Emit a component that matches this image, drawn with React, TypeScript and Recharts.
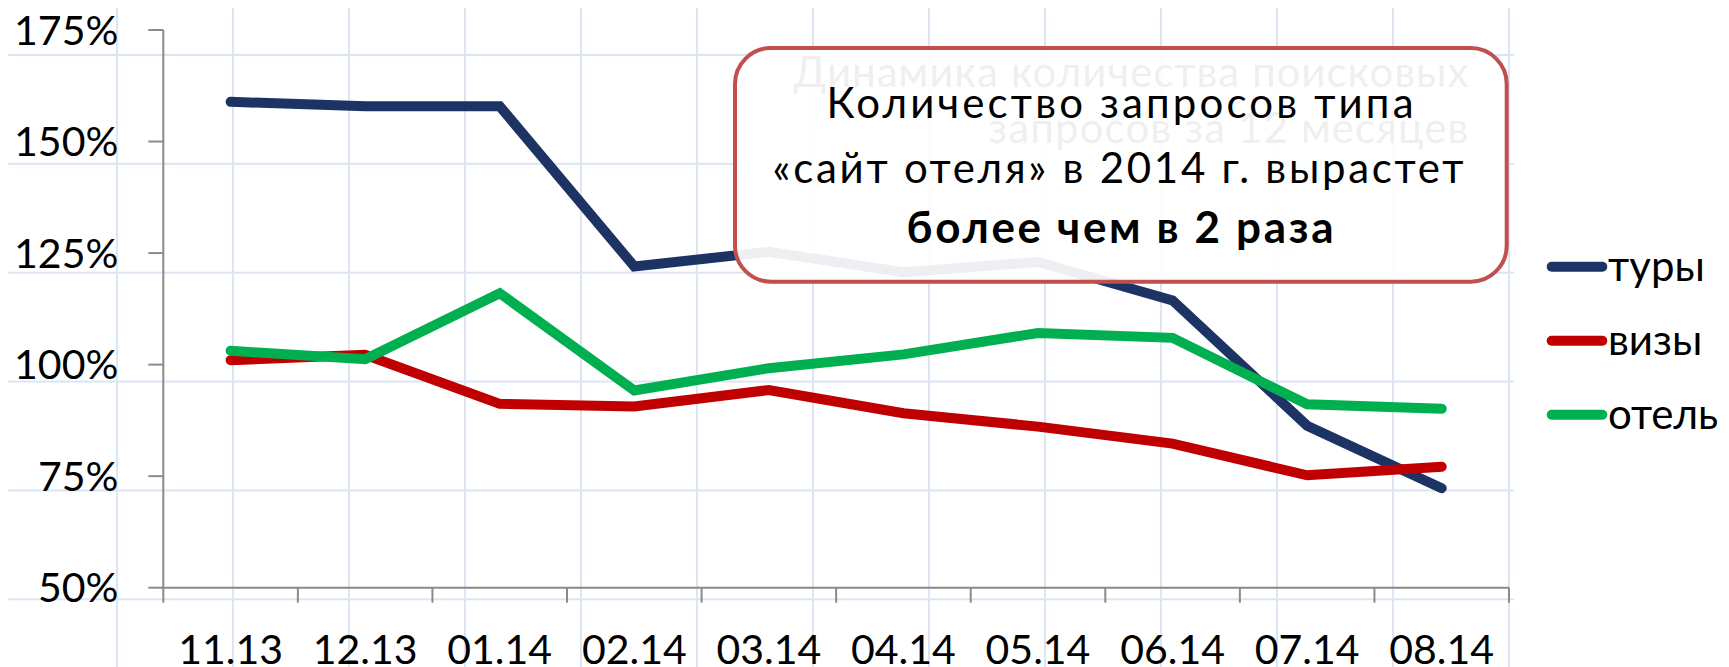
import React from 'react';
import { LineChart, Line, XAxis, YAxis, Legend } from 'recharts';

const categories = ['11.13', '12.13', '01.14', '02.14', '03.14', '04.14', '05.14', '06.14', '07.14', '08.14'];
const seriesNames = ['туры', 'визы', 'отель'];
const tury = [158.9, 157.9, 157.9, 122.0, 125.3, 120.7, 123.0, 114.4, 86.3, 72.3];
const vizy = [101.0, 102.2, 91.2, 90.6, 94.3, 89.1, 86.1, 82.3, 75.2, 77.1];
const otel = [103.1, 101.2, 116.0, 94.2, 99.2, 102.3, 107.1, 106.0, 91.1, 90.1];
const yTicks = [50, 75, 100, 125, 150, 175];
const titleLines = ['Динамика количества поисковых', 'запросов за 12 месяцев'];
const calloutLines = ['Количество запросов типа', '«сайт отеля» в 2014 г. вырастет', 'более чем в 2 раза'];

const rows = categories.map((c, i) => ({ month: c, tury: tury[i], vizy: vizy[i], otel: otel[i] }));

const FONT = 'Lato, "Noto Sans", sans-serif';
const AXIS = '#8a8a8a';
const COLORS = ['#1C3363', '#C00000', '#00B050'];
const TICK = 15;
const X_MARGIN = 32;

const XTick = (props: any) => {
  const { x, y, payload, index, visibleTicksCount } = props;
  const half = payload && typeof payload.offset === 'number' && payload.offset > 0 ? payload.offset : 67.3;
  const axisY = y - TICK - X_MARGIN;
  const last = index === (visibleTicksCount ?? categories.length) - 1;
  return (
    <g>
      <line x1={x - half} x2={x - half} y1={axisY} y2={axisY + TICK} stroke={AXIS} strokeWidth={2} />
      {last && <line x1={x + half} x2={x + half} y1={axisY} y2={axisY + TICK} stroke={AXIS} strokeWidth={2} />}
      <text x={x} y={y} dy="0.71em" textAnchor="middle" fontSize={41} fontFamily={FONT} fill="#000">
        {payload.value}
      </text>
    </g>
  );
};

const renderLegend = (props: any) => {
  const payload = [...(props.payload || [])].sort(
    (a: any, b: any) => seriesNames.indexOf(a.value) - seriesNames.indexOf(b.value)
  );
  return (
    <svg width={175} height={230} style={{ overflow: 'visible' }}>
      {payload.map((e: any, i: number) => {
        const cy = 18.7 + 74 * i;
        return (
          <g key={i}>
            <line x1={5.7} x2={56.3} y1={cy} y2={cy} stroke={e.color} strokeWidth={10} strokeLinecap="round" />
            <text x={62} y={cy + 14} fontSize={42} fontFamily={FONT} fill="#000">
              {e.value}
            </text>
          </g>
        );
      })}
    </svg>
  );
};

export default function App() {
  return (
    <div style={{ position: 'relative', width: 1713, height: 659, fontFamily: FONT }}>
      <style>{'body{overflow:hidden} .recharts-surface{overflow:visible}'}</style>
      <div
        style={{
          position: 'absolute',
          left: -8,
          top: -8,
          width: 1514,
          height: 667,
          backgroundImage:
            'linear-gradient(to right, #dce6f2 0px, #dce6f2 2px, transparent 2px), linear-gradient(to bottom, #dce6f2 0px, #dce6f2 2px, transparent 2px)',
          backgroundSize: '116px 108.86px',
          backgroundPosition: '0px 54px',
        }}
      />
      <LineChart
        width={1713}
        height={659}
        data={rows}
        margin={{ top: 22, right: 212, bottom: 0, left: 5.3 }}
        style={{ position: 'relative' }}
      >
        <XAxis
          dataKey="month"
          scale="band"
          height={79.3}
          interval={0}
          tickSize={TICK}
          tickMargin={X_MARGIN}
          axisLine={{ stroke: AXIS, strokeWidth: 2 }}
          tickLine={{ stroke: 'none' }}
          tick={<XTick />}
        />
        <YAxis
          type="number"
          domain={[50, 175]}
          ticks={yTicks}
          interval={0}
          width={150}
          tickSize={TICK}
          tickMargin={30}
          axisLine={{ stroke: AXIS, strokeWidth: 2 }}
          tickLine={{ stroke: AXIS, strokeWidth: 2 }}
          tick={{ fontSize: 41, fill: '#000', fontFamily: FONT }}
          tickFormatter={(v: number) => `${v}%`}
        />
        <Legend
          layout="vertical"
          align="center"
          verticalAlign="middle"
          content={renderLegend}
          wrapperStyle={{ left: 1538, top: 240, width: 175, height: 230 }}
        />
        <Line dataKey="tury" name={seriesNames[0]} stroke={COLORS[0]} strokeWidth={10} dot={false} activeDot={false} strokeLinecap="round" isAnimationActive={false} />
        <Line dataKey="vizy" name={seriesNames[1]} stroke={COLORS[1]} strokeWidth={10} dot={false} activeDot={false} strokeLinecap="round" isAnimationActive={false} />
        <Line dataKey="otel" name={seriesNames[2]} stroke={COLORS[2]} strokeWidth={10} dot={false} activeDot={false} strokeLinecap="round" isAnimationActive={false} />
      </LineChart>
      <svg
        width={1713}
        height={659}
        style={{ position: 'absolute', left: 0, top: 0, pointerEvents: 'none' }}
      >
        <text x={1460.3} y={78.7} textAnchor="end" fontSize={42} fontFamily={FONT} fill="#333" textLength={675} lengthAdjust="spacing">
          {titleLines[0]}
        </text>
        <text x={1460.3} y={135.3} textAnchor="end" fontSize={42} fontFamily={FONT} fill="#333" textLength={480} lengthAdjust="spacing">
          {titleLines[1]}
        </text>
        <rect x={727} y={40} width={771.7} height={233.7} rx={36} ry={36} fill="#fff" fillOpacity={0.92} stroke="#C0504D" strokeWidth={4} />
        <text x={1112} y={110.3} textAnchor="middle" fontSize={42} fontFamily={FONT} fill="#000" textLength={587} lengthAdjust="spacing">
          {calloutLines[0]}
        </text>
        <text x={1110} y={175.3} textAnchor="middle" fontSize={42} fontFamily={FONT} fill="#000" textLength={691} lengthAdjust="spacing">
          {calloutLines[1]}
        </text>
        <text x={1112} y={235.3} textAnchor="middle" fontSize={44} fontWeight="bold" fontFamily={FONT} fill="#000" textLength={427} lengthAdjust="spacing">
          {calloutLines[2]}
        </text>
      </svg>
    </div>
  );
}
